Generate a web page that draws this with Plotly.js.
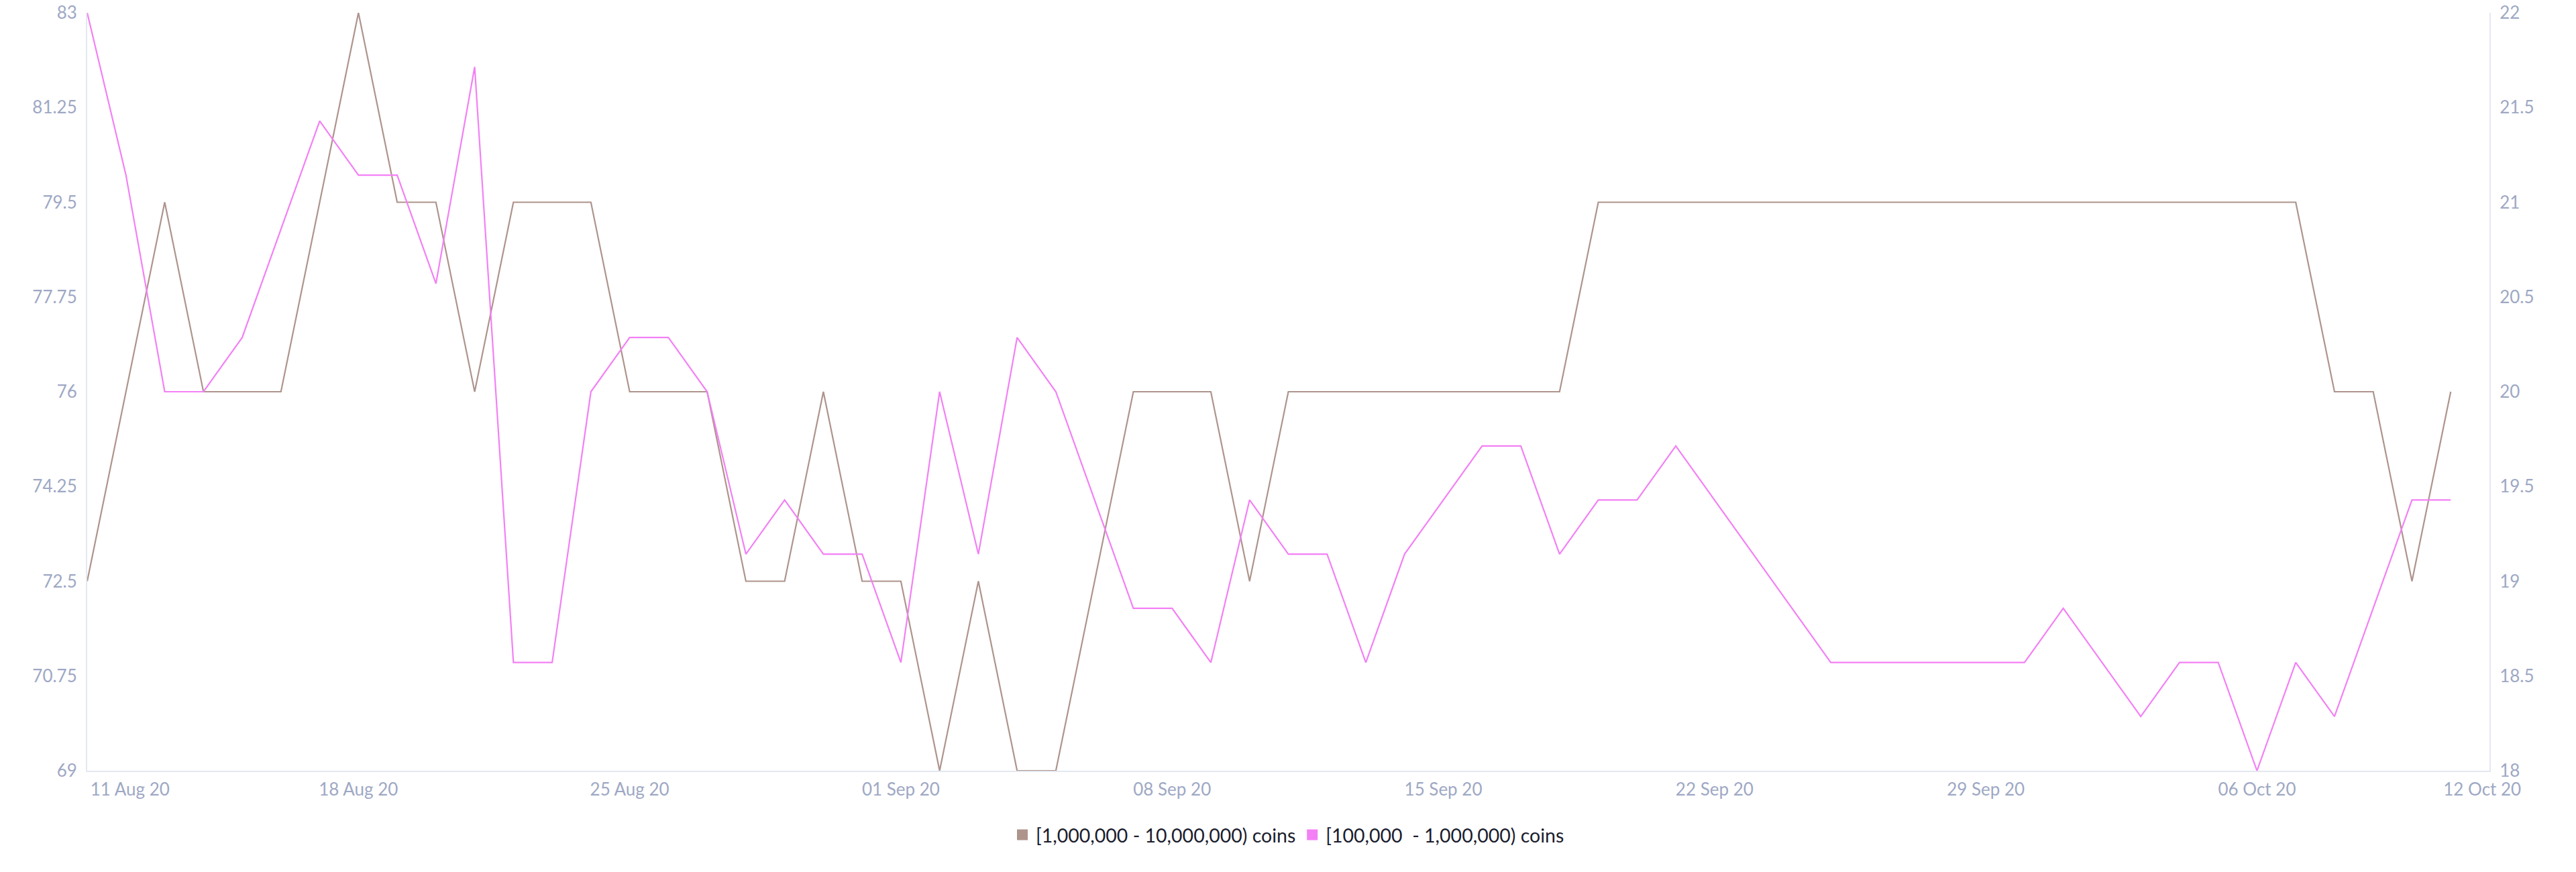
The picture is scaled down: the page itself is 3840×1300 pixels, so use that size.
<!DOCTYPE html>
<html>
<head>
<meta charset="utf-8">
<script src="https://cdn.plot.ly/plotly-3.0.1.min.js"></script>
<style>html,body{margin:0;padding:0;background:#fff;}#chart{width:3840px;height:1300px;}</style>
</head>
<body>
<div id="chart"></div>
<script>
const dates = [
  "2020-08-11","2020-08-12","2020-08-13","2020-08-14","2020-08-15","2020-08-16","2020-08-17",
  "2020-08-18","2020-08-19","2020-08-20","2020-08-21","2020-08-22","2020-08-23","2020-08-24",
  "2020-08-25","2020-08-26","2020-08-27","2020-08-28","2020-08-29","2020-08-30","2020-08-31",
  "2020-09-01","2020-09-02","2020-09-03","2020-09-04","2020-09-05","2020-09-06","2020-09-07",
  "2020-09-08","2020-09-09","2020-09-10","2020-09-11","2020-09-12","2020-09-13","2020-09-14",
  "2020-09-15","2020-09-16","2020-09-17","2020-09-18","2020-09-19","2020-09-20","2020-09-21",
  "2020-09-22","2020-09-23","2020-09-24","2020-09-25","2020-09-26","2020-09-27","2020-09-28",
  "2020-09-29","2020-09-30","2020-10-01","2020-10-02","2020-10-03","2020-10-04","2020-10-05",
  "2020-10-06","2020-10-07","2020-10-08","2020-10-09","2020-10-10","2020-10-11"
];

const seriesNames = ["[1,000,000 - 10,000,000) coins", "[100,000  - 1,000,000) coins"];

const bigHolders = [
  72.5, 76, 79.5, 76, 76, 76, 79.5,
  83, 79.5, 79.5, 76, 79.5, 79.5, 79.5,
  76, 76, 76, 72.5, 72.5, 76, 72.5,
  72.5, 69, 72.5, 69, 69, 72.5, 76,
  76, 76, 72.5, 76, 76, 76, 76,
  76, 76, 76, 76, 79.5, 79.5, 79.5,
  79.5, 79.5, 79.5, 79.5, 79.5, 79.5, 79.5,
  79.5, 79.5, 79.5, 79.5, 79.5, 79.5, 79.5,
  79.5, 79.5, 76, 76, 72.5, 76
];

const midHolders = [
  22, 21.143, 20, 20, 20.286, 20.857, 21.429,
  21.143, 21.143, 20.571, 21.714, 18.571, 18.571, 20,
  20.286, 20.286, 20, 19.143, 19.429, 19.143, 19.143,
  18.571, 20, 19.143, 20.286, 20, 19.429, 18.857,
  18.857, 18.571, 19.429, 19.143, 19.143, 18.571, 19.143,
  19.429, 19.714, 19.714, 19.143, 19.429, 19.429, 19.714,
  19.429, 19.143, 18.857, 18.571, 18.571, 18.571, 18.571,
  18.571, 18.571, 18.857, 18.571, 18.286, 18.571, 18.571,
  18, 18.571, 18.286, 18.857, 19.429, 19.429
];

const xTickVals = ["2020-08-12 02:30","2020-08-18","2020-08-25","2020-09-01","2020-09-08","2020-09-15","2020-09-22","2020-09-29","2020-10-06","2020-10-11 19:30"];
const xTickText = ["11 Aug 20","18 Aug 20","25 Aug 20","01 Sep 20","08 Sep 20","15 Sep 20","22 Sep 20","29 Sep 20","06 Oct 20","12 Oct 20"];

const leftTickVals = [69, 70.75, 72.5, 74.25, 76, 77.75, 79.5, 81.25, 83];
const leftTickText = ["69","70.75","72.5","74.25","76","77.75","79.5","81.25","83"];
const rightTickVals = [18, 18.5, 19, 19.5, 20, 20.5, 21, 21.5, 22];
const rightTickText = ["18","18.5","19","19.5","20","20.5","21","21.5","22"];

const colors = ["#ae948c", "#f380f5"];

const FONT = "Lato, 'Open Sans', sans-serif";
const tickColor = "#9ea8c4";
const axisLine = "#e4e8f1";

const traces = [
  {x: dates, y: bigHolders, type: "scatter", mode: "lines", yaxis: "y",
   line: {color: colors[0], width: 2.2}, showlegend: false, hoverinfo: "x+y"},
  {x: dates, y: midHolders, type: "scatter", mode: "lines", yaxis: "y2",
   line: {color: colors[1], width: 2.2}, showlegend: false, hoverinfo: "x+y"},
  {x: [null], y: [null], type: "scatter", mode: "markers", name: seriesNames[0],
   marker: {symbol: "square", size: 17, color: colors[0]}, showlegend: true},
  {x: [null], y: [null], type: "scatter", mode: "markers", name: seriesNames[1],
   marker: {symbol: "square", size: 17, color: colors[1]}, showlegend: true}
];

const layout = {
  width: 3840, height: 1300,
  margin: {l: 130, r: 129, t: 19, b: 151, pad: 0},
  paper_bgcolor: "#ffffff", plot_bgcolor: "#ffffff",
  font: {family: FONT, size: 25, color: tickColor},
  showlegend: true,
  legend: {orientation: "h", x: 0.5, xanchor: "center", y: -0.085, yanchor: "middle",
           font: {family: FONT, size: 28.5, color: "#1b1d2e"}, bgcolor: "rgba(0,0,0,0)"},
  xaxis: {type: "date", range: ["2020-08-11", "2020-10-12"],
          tickmode: "array", tickvals: xTickVals, ticktext: xTickText,
          showgrid: false, zeroline: false, showline: true, linecolor: axisLine, linewidth: 2,
          ticks: "", ticklabelstandoff: 4, tickfont: {family: FONT, size: 26, color: tickColor}, fixedrange: true},
  yaxis: {range: [69, 83], tickmode: "array", tickvals: leftTickVals, ticktext: leftTickText,
          showgrid: false, zeroline: false, showline: true, linecolor: axisLine, linewidth: 2,
          ticks: "", ticklabelstandoff: 8, tickfont: {family: FONT, size: 26, color: tickColor}},
  yaxis2: {range: [18, 22], overlaying: "y", side: "right", tickmode: "array",
           tickvals: rightTickVals, ticktext: rightTickText,
           showgrid: false, zeroline: false, showline: true, linecolor: axisLine, linewidth: 2,
           ticks: "", ticklabelstandoff: 8, tickfont: {family: FONT, size: 26, color: tickColor}}
};

Plotly.newPlot("chart", traces, layout, {displayModeBar: false, staticPlot: true});
</script>
</body>
</html>
